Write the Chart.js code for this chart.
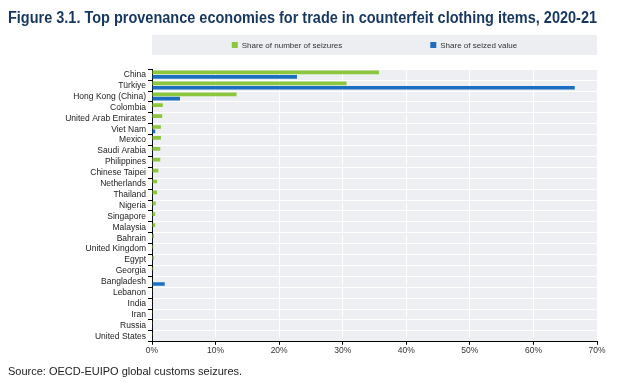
<!DOCTYPE html>
<html>
<head>
<meta charset="utf-8">
<script src="https://cdn.jsdelivr.net/npm/chart.js@4/dist/chart.umd.min.js"></script>
<style>
  html, body { margin: 0; padding: 0; background: #fff; }
  #wrap { width: 640px; height: 387px; }
</style>
</head>
<body>
<div id="wrap"><canvas id="chart"></canvas></div>
<script>
// economies, top to bottom
var economies = ["China", "Türkiye", "Hong Kong (China)", "Colombia", "United Arab Emirates",
    "Viet Nam", "Mexico", "Saudi Arabia", "Philippines", "Chinese Taipei", "Netherlands",
    "Thailand", "Nigeria", "Singapore", "Malaysia", "Bahrain", "United Kingdom", "Egypt",
    "Georgia", "Bangladesh", "Lebanon", "India", "Iran", "Russia", "United States"];

// share of number of seizures (%)
var seizureShare = [35.7, 30.6, 13.3, 1.7, 1.6, 1.4, 1.4, 1.3, 1.3, 1.0, 0.8,
    0.8, 0.6, 0.5, 0.5, 0.3, 0.2, 0.3, 0.2, 0.1, 0.1, 0.1, 0.05, 0.05, 0.05];

// share of seized value (%)
var valueShare = [22.8, 66.5, 4.4, 0.05, 0.05, 0.5, 0.05, 0.05, 0.05, 0.05, 0.05,
    0.05, 0.05, 0.05, 0.05, 0.05, 0.05, 0.05, 0.05, 2.0, 0.05, 0.05, 0.05, 0.05, 0.05];

var xTicks = [0, 10, 20, 30, 40, 50, 60, 70];

var narrow = "'Liberation Sans Narrow', 'Arial Narrow', 'Liberation Sans', Arial, sans-serif";
var GREEN = "#8cc63e";
var BLUE = "#1c6fc0";

// grey plot area + grey legend band drawn under everything
var backdrop = {
    id: "backdrop",
    beforeDraw: function (chart) {
        var ctx = chart.ctx;
        var a = chart.chartArea;
        ctx.save();
        ctx.fillStyle = "#edeff3";
        ctx.fillRect(a.left, a.top, a.right - a.left, a.bottom - a.top);
        ctx.fillStyle = "#eceef1";
        ctx.fillRect(a.left, 35, a.right - a.left, 20);
        ctx.restore();
    },
    afterDraw: function (chart) {
        // legend items inside the grey band
        var ctx = chart.ctx;
        var a = chart.chartArea;
        var sets = chart.data.datasets;
        var gap = 88;
        ctx.save();
        ctx.font = "8px " + narrow;
        ctx.textBaseline = "middle";
        var total = 0;
        var widths = [];
        for (var i = 0; i < sets.length; i++) {
            var w = 6 + 4 + ctx.measureText(sets[i].label).width;
            widths.push(w);
            total += w;
        }
        total += gap * (sets.length - 1);
        var x = (a.left + a.right) / 2 - total / 2;
        for (var j = 0; j < sets.length; j++) {
            ctx.fillStyle = sets[j].backgroundColor;
            ctx.fillRect(x, 42, 6, 6);
            ctx.fillStyle = "#333";
            ctx.fillText(sets[j].label, x + 10, 45.5);
            x += widths[j] + gap;
        }
        ctx.restore();
    }
};

new Chart(document.getElementById("chart"), {
    type: "bar",
    data: {
        labels: economies,
        datasets: [
            {
                label: "Share of number of seizures",
                data: seizureShare,
                backgroundColor: GREEN,
                categoryPercentage: 0.8,
                barPercentage: 0.85
            },
            {
                label: "Share of seized value",
                data: valueShare,
                backgroundColor: BLUE,
                categoryPercentage: 0.8,
                barPercentage: 0.85
            }
        ]
    },
    options: {
        indexAxis: "y",
        responsive: true,
        maintainAspectRatio: false,
        animation: false,
        layout: { padding: { left: 8, right: 43, top: 0, bottom: 0 } },
        plugins: {
            legend: { display: false },
            tooltip: { enabled: false },
            title: {
                display: true,
                text: "Figure 3.1. Top provenance economies for trade in counterfeit clothing items, 2020-21",
                align: "start",
                color: "#17375e",
                font: { family: narrow, size: 16, weight: "bold", lineHeight: 1.2 },
                padding: { top: 9, bottom: 41 }
            },
            subtitle: {
                display: true,
                position: "bottom",
                text: "Source: OECD-EUIPO global customs seizures.",
                align: "start",
                color: "#222",
                font: { family: "'Liberation Sans', Arial, sans-serif", size: 11, lineHeight: 1.2 },
                padding: { top: 2, bottom: 8 }
            }
        },
        scales: {
            x: {
                min: 0,
                max: 70,
                afterBuildTicks: function (scale) {
                    scale.ticks = xTicks.map(function (v) { return { value: v }; });
                },
                afterFit: function (scale) { scale.height = 22; },
                border: { color: "#000", width: 1 },
                grid: { color: "#ffffff", lineWidth: 1, tickColor: "#000", tickLength: 3, drawTicks: true },
                ticks: {
                    color: "#333",
                    font: { family: narrow, size: 8.5 },
                    padding: 1,
                    callback: function (v) { return v + "%"; }
                }
            },
            y: {
                afterFit: function (scale) { scale.width = 144; },
                border: { color: "#000", width: 1 },
                grid: { color: "#ffffff", lineWidth: 1, tickColor: "#000", tickLength: 4, offset: true },
                ticks: {
                    color: "#222",
                    font: { family: narrow, size: 8.5 },
                    padding: 2,
                    autoSkip: false
                }
            }
        }
    },
    plugins: [backdrop]
});
</script>
</body>
</html>
